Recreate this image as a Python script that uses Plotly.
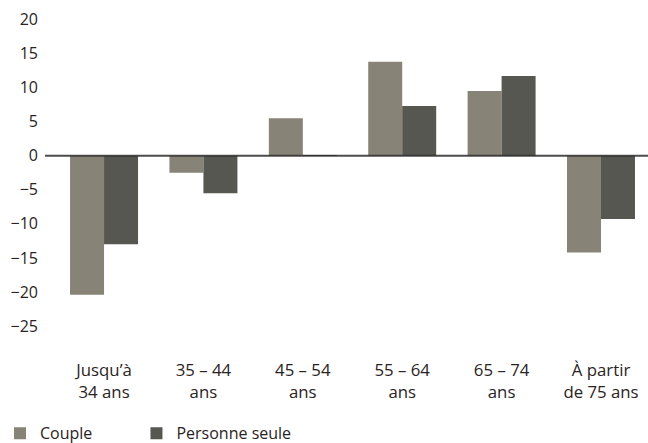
import plotly.graph_objects as go

# Age groups (x-axis) and the change for each household type
categories = ["Jusqu’à<br>34 ans", "35 – 44<br>ans", "45 – 54<br>ans",
              "55 – 64<br>ans", "65 – 74<br>ans", "À partir<br>de 75 ans"]
couple = [-20.4, -2.5, 5.5, 13.8, 9.5, -14.2]
personne_seule = [-13.0, -5.5, 0.1, 7.3, 11.7, -9.3]
y_ticks = [20, 15, 10, 5, 0, -5, -10, -15, -20, -25]

TEXT = "#2a2323"
FONT = "Open Sans"
SIZE = 16

fig = go.Figure()
fig.add_trace(go.Bar(x=categories, y=couple, name="Couple", legend="legend",
                     marker=dict(color="#878377", line=dict(width=0))))
fig.add_trace(go.Bar(x=categories, y=personne_seule, name="Personne seule",
                     legend="legend2",
                     marker=dict(color="#555750", line=dict(width=0))))

# Zero baseline drawn over the bars
fig.add_shape(type="line", xref="paper", yref="y", x0=0, x1=1, y0=0, y1=0,
              line=dict(color="rgba(45,45,45,0.85)", width=2), layer="above")

legend_common = dict(orientation="h", xref="container", yref="container",
                     xanchor="left", y=0.022, yanchor="middle",
                     bgcolor="rgba(0,0,0,0)",
                     font=dict(family=FONT, size=SIZE, color=TEXT))

fig.update_layout(
    width=648, height=443,
    margin=dict(l=45, r=0, t=11, b=102, autoexpand=False),
    paper_bgcolor="white", plot_bgcolor="white",
    barmode="group", bargap=0.316, bargroupgap=0,
    font=dict(family=FONT, size=SIZE, color=TEXT),
    showlegend=True,
    legend=dict(x=0.0, **legend_common),
    legend2=dict(x=0.2106, **legend_common),
    xaxis=dict(range=[-0.594, 5.473], showline=False, showgrid=False,
               zeroline=False, ticks="", ticklabelstandoff=17,
               tickfont=dict(family=FONT, size=16.8, color=TEXT)),
    yaxis=dict(range=[-27.2, 21.25], tickvals=y_ticks, showline=False,
               showgrid=False, zeroline=False, ticks="", ticklabelstandoff=6,
               tickfont=dict(family=FONT, size=SIZE, color=TEXT)),
)

fig.write_html("out.html")
